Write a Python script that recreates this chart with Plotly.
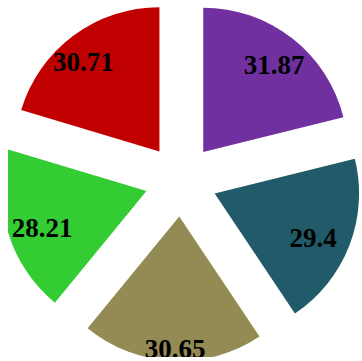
import plotly.graph_objects as go

labels = ["A", "B", "C", "D", "E"]
values = [31.87, 29.4, 30.65, 28.21, 30.71]
colors = ["#7030A0", "#215A68", "#948A54", "#33CC33", "#C00000"]
pulls = [0.25, 0.25, 0.25, 0.25, 0.25]

W, H = 362, 361
font = dict(family="Liberation Serif", size=27, color="black", weight="bold")
clear = ["rgba(0,0,0,0)"] * len(values)

common = dict(
    labels=labels,
    values=values,
    sort=False,
    direction="clockwise",
    rotation=0,
    textinfo="value",
    insidetextorientation="horizontal",
    textfont=font,
    showlegend=False,
    hoverinfo="skip",
)

# visible slices
main = go.Pie(
    pull=pulls,
    marker=dict(colors=colors, line=dict(width=0)),
    textposition="none",
    **common,
)

# invisible ring carrying the labels that sit near the rim
rim_labels = go.Pie(
    domain=dict(x=[0, 1 - 7.6 / W], y=[0, 1 - 15.8 / H]),
    hole=0.832,
    pull=[0.313, 0.25, 0.35, 0.25, 0.313],
    marker=dict(colors=clear, line=dict(width=0)),
    textposition=["inside", "none", "inside", "none", "inside"],
    **common,
)

# invisible pie carrying the remaining labels
mid_labels = go.Pie(
    domain=dict(x=[0, 1 - 2.6 / W], y=[0, 350 / H]),
    pull=[0, 1.0, 0, 1.0, 0],
    marker=dict(colors=clear, line=dict(width=0)),
    textposition=["none", "inside", "none", "inside", "none"],
    **common,
)

fig = go.Figure([main, rim_labels, mid_labels])

fig.update_layout(
    width=W,
    height=H,
    margin=dict(l=0, r=0, t=0, b=0),
    paper_bgcolor="white",
    plot_bgcolor="white",
    uniformtext=dict(minsize=27, mode="show"),
    shapes=[
        dict(type="rect", xref="paper", yref="paper", x0=0, x1=8 / W, y0=0, y1=1,
             fillcolor="white", line=dict(width=0), layer="above"),
        dict(type="rect", xref="paper", yref="paper", x0=0, x1=1, y0=0, y1=4 / H,
             fillcolor="white", line=dict(width=0), layer="above"),
    ],
)

fig.write_html("out.html")
